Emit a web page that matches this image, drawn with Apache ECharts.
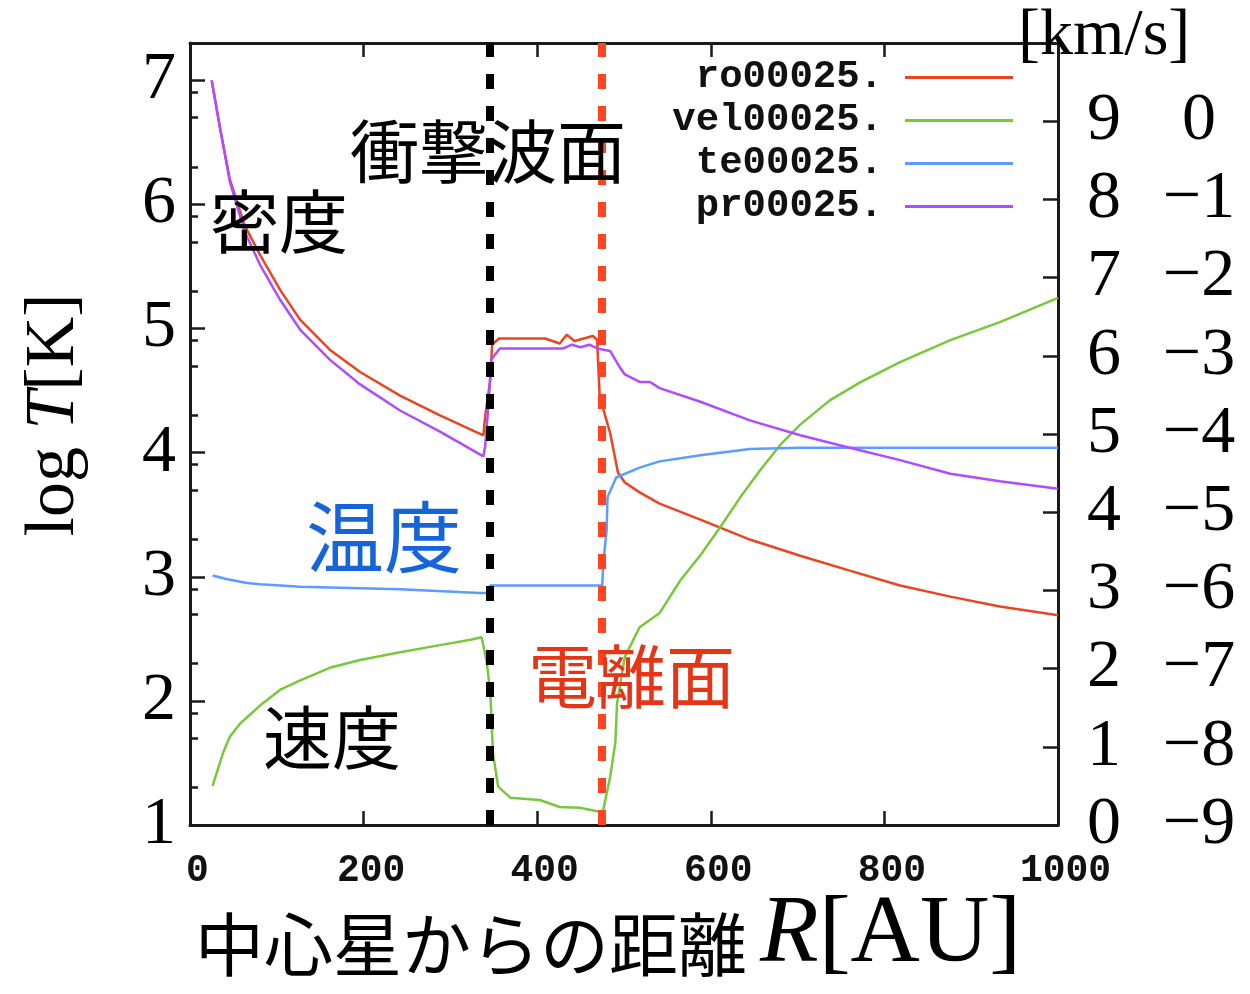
<!DOCTYPE html>
<html><head><meta charset="utf-8">
<script src="https://cdn.jsdelivr.net/npm/echarts@6/dist/echarts.min.js"></script>
<style>html,body{margin:0;padding:0;background:#fff}#c{width:1250px;height:994px}</style>
</head><body><div id="c"></div>
<script>
// ---- data ----
const seriesNames = ['ro00025.', 'vel00025.', 'te00025.', 'pr00025.'];
const seriesColors = ['#ea4423', '#78c83c', '#5a9cff', '#b04cff'];

const roX = [25,35,46,63,81,104,127,161,196,242,288,338,340,346,348,356,409,426,434,443,464,469,472,484,493,501,518,541,588,645,703,760,818,876,933,1000];
const roY = [7.00,6.60,6.20,5.83,5.59,5.31,5.07,4.83,4.65,4.46,4.30,4.14,4.29,4.59,4.87,4.92,4.92,4.88,4.95,4.90,4.94,4.91,4.45,4.16,3.84,3.76,3.68,3.59,3.46,3.30,3.17,3.05,2.93,2.84,2.76,2.69];

const prX = [25,35,46,63,81,104,127,161,196,242,288,338,340,344,347,357,430,440,450,460,469,484,495,501,518,530,541,588,645,703,760,818,876,933,1000];
const prY = [7.00,6.60,6.18,5.78,5.51,5.23,4.99,4.75,4.55,4.34,4.17,3.97,4.05,4.40,4.75,4.84,4.84,4.87,4.85,4.87,4.84,4.82,4.69,4.63,4.57,4.57,4.52,4.41,4.26,4.14,4.04,3.94,3.83,3.77,3.71];

const teX = [26,43,66,81,127,242,334,342,346,470,475,476,480,481,491,518,541,588,645,703,1000];
const teY = [3.01,2.98,2.95,2.94,2.92,2.90,2.87,2.87,2.93,2.93,2.93,3.10,3.38,3.64,3.80,3.88,3.93,3.98,4.03,4.04,4.04];

// velocity in km/s (right axis)
const velX = [26,38,46,58,69,81,104,127,161,196,242,288,323,336,342,346,349,355,369,403,426,449,472,476,484,490,492,501,518,541,565,588,611,634,657,680,703,737,772,818,876,933,1000];
const velY = [-8.50,-8.08,-7.87,-7.70,-7.59,-7.47,-7.27,-7.15,-6.99,-6.89,-6.79,-6.70,-6.63,-6.60,-6.93,-7.31,-8.08,-8.51,-8.65,-8.68,-8.77,-8.78,-8.83,-8.81,-8.39,-7.95,-7.44,-6.85,-6.47,-6.29,-5.87,-5.55,-5.19,-4.81,-4.46,-4.14,-3.88,-3.57,-3.34,-3.08,-2.80,-2.57,-2.26];

const shockR = 345.6;   // shock front
const ionR = 474.6;     // ionization front

const xTickLabels = [0, 200, 400, 600, 800, 1000];
const xInnerTicks = [200, 400, 600, 800];
const leftTickLabels = [1, 2, 3, 4, 5, 6, 7];
const leftMinorTicks = [1.301,1.699,1.903,2.301,2.699,2.903,3.301,3.699,3.903,4.301,4.699,4.903,5.301,5.699,5.903,6.301,6.699,6.903];
const rightTickLabels = [0,1,2,3,4,5,6,7,8,9];
const rightTicks = [1,2,3,4,5,6,7,8,9];
const velTickLabels = [-9,-8,-7,-6,-5,-4,-3,-2,-1,0];

const zip = (xs, ys) => xs.map((x, i) => [x, ys[i]]);

// ---- chart ----
const chart = echarts.init(document.getElementById('c'), null, {renderer: 'canvas'});
const frame = {color: '#1a1a1a', width: 3};
const serif = 'Liberation Serif';
const cjk = 'Noto Sans CJK JP';
const mono = 'Liberation Mono';
const legendRows = [77, 120, 163, 206];

const option = {
  animation: false,
  backgroundColor: '#fff',
  grid: {left: 190, right: 192, top: 43, bottom: 169, containLabel: false},
  xAxis: [
    {type: 'value', position: 'bottom', min: 0, max: 1000, interval: 200,
     axisLine: {onZero: false, lineStyle: frame},
     axisTick: {inside: true, length: 14, lineStyle: {color: '#1a1a1a', width: 2.5}, customValues: xInnerTicks},
     axisLabel: {customValues: xTickLabels, formatter: v => String(v), fontFamily: mono, fontWeight: 'bold', fontSize: 38, color: '#111', margin: 27, padding: [0,0,0,15]},
     splitLine: {show: false}},
    {type: 'value', position: 'top', min: 0, max: 1000, interval: 200,
     axisLine: {onZero: false, lineStyle: frame},
     axisTick: {inside: true, length: 14, lineStyle: {color: '#1a1a1a', width: 2.5}, customValues: xInnerTicks},
     axisLabel: {show: false}, splitLine: {show: false}}
  ],
  yAxis: [
    {type: 'value', position: 'left', min: 1, max: 7.301,
     axisLine: {onZero: false, lineStyle: frame},
     axisTick: {inside: true, length: 15, lineStyle: {color: '#1a1a1a', width: 2.5}, customValues: leftTickLabels},
     axisLabel: {customValues: leftTickLabels, fontFamily: serif, fontSize: 68, color: '#000', margin: 14},
     splitLine: {show: false}},
    {type: 'value', position: 'left', min: 1, max: 7.301,
     axisLine: {show: false, onZero: false},
     axisTick: {inside: true, length: 8, lineStyle: {color: '#1a1a1a', width: 2.5}, customValues: leftMinorTicks},
     axisLabel: {show: false}, splitLine: {show: false}},
    {type: 'value', position: 'right', min: 0, max: 10,
     axisLine: {onZero: false, lineStyle: frame},
     axisTick: {inside: true, length: 15, lineStyle: {color: '#1a1a1a', width: 2.5}, customValues: rightTicks},
     axisLabel: {customValues: rightTickLabels, align: 'center', fontFamily: serif, fontSize: 68, color: '#000', margin: 46},
     splitLine: {show: false}},
    {type: 'value', position: 'right', min: -9, max: 1,
     axisLine: {show: false, onZero: false}, axisTick: {show: false},
     axisLabel: {customValues: velTickLabels, align: 'center', fontFamily: serif, fontSize: 68, color: '#000', margin: 141,
       formatter: v => (v < 0 ? '\u2212' + (-v) : String(v))},
     splitLine: {show: false}}
  ],
  legend: seriesNames.map((n, i) => ({
    data: [n], orient: 'vertical', right: 237, top: legendRows[i] - 19, padding: 0,
    align: 'right', itemWidth: 108, itemHeight: 3, icon: 'rect', selectedMode: false,
    textStyle: {fontFamily: mono, fontWeight: 'bold', fontSize: 39, color: '#111', padding: [0, 17, 0, 0]}
  })),
  series: [
    {name: seriesNames[0], type: 'line', xAxisIndex: 0, yAxisIndex: 0, data: zip(roX, roY),
     showSymbol: false, symbol: 'none', color: seriesColors[0], lineStyle: {width: 2.5, color: seriesColors[0]}},
    {name: seriesNames[1], type: 'line', xAxisIndex: 0, yAxisIndex: 3, data: zip(velX, velY),
     showSymbol: false, symbol: 'none', color: seriesColors[1], lineStyle: {width: 2.5, color: seriesColors[1]}},
    {name: seriesNames[2], type: 'line', xAxisIndex: 0, yAxisIndex: 0, data: zip(teX, teY),
     showSymbol: false, symbol: 'none', color: seriesColors[2], lineStyle: {width: 2.5, color: seriesColors[2]}},
    {name: seriesNames[3], type: 'line', xAxisIndex: 0, yAxisIndex: 0, data: zip(prX, prY),
     showSymbol: false, symbol: 'none', color: seriesColors[3], lineStyle: {width: 2.5, color: seriesColors[3]},
     markLine: {silent: true, symbol: 'none', label: {show: false},
       lineStyle: {type: [15, 17], width: 8},
       data: [
         {xAxis: shockR, lineStyle: {color: '#000', type: [15, 17], width: 8}},
         {xAxis: ionR, lineStyle: {color: '#ff4422', type: [15, 17], width: 8}}
       ]}}
  ],
  graphic: [
    {type: 'text', left: 350, top: 152 - 35, z: 50, style: {text: '衝撃波面', font: '69px "' + cjk + '"', fill: '#000'}},
    {type: 'text', left: 210, top: 222 - 35, z: 50, style: {text: '密度', font: '69px "' + cjk + '"', fill: '#000'}},
    {type: 'text', left: 306, top: 538 - 40, z: 50, style: {text: '温度', font: '78px "' + cjk + '"', fill: '#1565d8'}},
    {type: 'text', left: 263, top: 738 - 35, z: 50, style: {text: '速度', font: '69px "' + cjk + '"', fill: '#000'}},
    {type: 'text', left: 528, top: 677 - 35, z: 50, style: {text: '電離面', font: '69px "' + cjk + '"', fill: '#e53517'}},
    {type: 'text', left: 1018, top: 37 - 33, z: 50, style: {text: '[km/s]', font: '66px "' + serif + '"', fill: '#000'}},
    {type: 'text', x: 55, y: 415, rotation: Math.PI / 2, z: 50,
     style: {text: '{a|log }{b|T}{a|[K]}', align: 'center', verticalAlign: 'middle',
       rich: {a: {fontFamily: serif, fontSize: 70, fill: '#000'}, b: {fontFamily: serif, fontSize: 70, fontStyle: 'italic', fill: '#000'}}}},
    {type: 'text', left: 195, top: 945 - 35, z: 50, style: {text: '中心星からの距離', font: '69px "' + cjk + '"', fill: '#000'}},
    {type: 'text', x: 760, y: 936, z: 50,
     style: {text: '{b|R}{a|[AU]}', align: 'left', verticalAlign: 'middle',
       rich: {a: {fontFamily: serif, fontSize: 96, fill: '#000'}, b: {fontFamily: serif, fontSize: 96, fontStyle: 'italic', fill: '#000'}}}}
  ]
};
chart.setOption(option);
</script>
</body></html>
